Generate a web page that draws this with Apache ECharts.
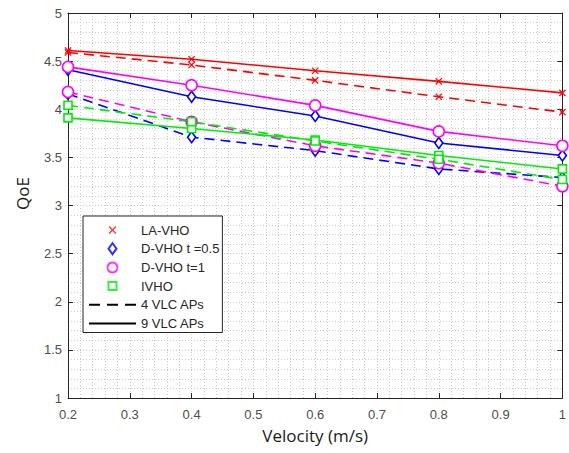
<!DOCTYPE html>
<html>
<head>
<meta charset="utf-8">
<script src="https://cdn.jsdelivr.net/npm/echarts@6/dist/echarts.min.js"></script>
<style>
html,body{margin:0;padding:0;background:#fff;}
#chart{width:569px;height:453px;}
</style>
</head>
<body>
<div id="chart"></div>
<script>
// ---- data ----
var velocity = [0.2, 0.4, 0.6, 0.8, 1.0];
var laVho9   = [4.61, 4.52, 4.40, 4.29, 4.17];
var laVho4   = [4.59, 4.46, 4.30, 4.13, 3.97];
var dVho05_9 = [4.41, 4.13, 3.93, 3.65, 3.52];
var dVho05_4 = [4.16, 3.71, 3.57, 3.38, 3.29];
var dVho1_9  = [4.44, 4.25, 4.04, 3.77, 3.62];
var dVho1_4  = [4.18, 3.87, 3.62, 3.44, 3.20];
var ivho9    = [3.91, 3.80, 3.68, 3.52, 3.38];
var ivho4    = [4.04, 3.87, 3.67, 3.48, 3.27];
var legendNames = ['LA-VHO', 'D-VHO t =0.5', 'D-VHO t=1', 'IVHO', '4 VLC APs', '9 VLC APs'];

function pairs(ys){ return velocity.map(function(x,i){ return [x, ys[i]]; }); }

// marker shapes (extra move-to points pad the bounding box so shapes keep a natural size)
var xMark   = 'path://M0,1.2 L1.2,0 L5,3.8 L8.8,0 L10,1.2 L6.2,5 L10,8.8 L8.8,10 L5,6.2 L1.2,10 L0,8.8 L3.8,5 Z M-2,-2 M12,12';
var diamond = 'path://M4,0 L8,5.5 L4,11 L0,5.5 Z';
var square  = 'path://M0,0 L8,0 L8,8 L0,8 Z M-1.5,-1.5 M9.5,9.5';
var circle  = 'path://M5,0 A5,5 0 1 1 4.99,0 Z M-0.5,-0.5 M10.5,10.5';
var styles = {
  la:   {color:'#ff0000', symbol:xMark, size:10, filled:true},
  d05:  {color:'#0000ff', symbol:diamond, size:11, filled:false},
  d1:   {color:'#ff00ff', symbol:'circle', size:11, filled:false},
  iv:   {color:'#00ee00', symbol:square, size:11, filled:false}
};

function mkSeries(name, st, ys, dashed){
  return {
    name: name, type:'line', data: pairs(ys),
    symbol: st.symbol, symbolSize: st.size, symbolKeepAspect:true, showSymbol:true,
    lineStyle:{color:st.color, width:1.6, type: dashed ? [10,6] : 'solid'},
    itemStyle: st.filled ? {color:st.color, borderWidth:0} : {color:'#ffffff', borderColor:st.color, borderWidth:1.6},
    emphasis:{disabled:true}, animation:false, z:3
  };
}
function legendMarker(name, st, sym){
  return {name:name, type:'scatter', data:[], symbol:sym || st.symbol, symbolSize:st.size, symbolKeepAspect:true,
    itemStyle: st.filled ? {color:st.color} : {color:'#ffffff', borderColor:st.color, borderWidth:2}};
}

var series = [
  mkSeries('LA-VHO 9', styles.la, laVho9, false),
  mkSeries('LA-VHO 4', styles.la, laVho4, true),
  mkSeries('D-VHO t=0.5 9', styles.d05, dVho05_9, false),
  mkSeries('D-VHO t=0.5 4', styles.d05, dVho05_4, true),
  mkSeries('D-VHO t=1 9', styles.d1, dVho1_9, false),
  mkSeries('D-VHO t=1 4', styles.d1, dVho1_4, true),
  mkSeries('IVHO 9', styles.iv, ivho9, false),
  mkSeries('IVHO 4', styles.iv, ivho4, true),
  legendMarker(legendNames[0], styles.la),
  legendMarker(legendNames[1], styles.d05),
  legendMarker(legendNames[2], styles.d1, circle),
  legendMarker(legendNames[3], styles.iv),
  {name:legendNames[4], type:'line', data:[], symbol:'none', showSymbol:false, itemStyle:{color:'#000'}, lineStyle:{color:'#000', width:1, type:[11,7]}},
  {name:legendNames[5], type:'line', data:[], symbol:'none', showSymbol:false, itemStyle:{color:'#000'}, lineStyle:{color:'#000', width:1}}
];

var hidden = {color:'rgba(0,0,0,0)', borderColor:'rgba(0,0,0,0)', borderWidth:0, opacity:0};
var legendData = [
  {name:legendNames[0]},
  {name:legendNames[1]},
  {name:legendNames[2]},
  {name:legendNames[3]},
  {name:legendNames[4], itemStyle:hidden},
  {name:legendNames[5], itemStyle:hidden}
];

var gridLine = {show:true, lineStyle:{color:'#cccccc', width:1, type:[1,2]}};
var axisCol = '#262626';
var labelFont = {fontFamily:'Liberation Sans, Arial, sans-serif', fontSize:13, color:'#4d4d4d'};
function fmt(v){ return String(parseFloat(v.toFixed(2))); }

var option = {
  backgroundColor:'#ffffff',
  animation:false,
  grid:{left:68, right:5, top:13, bottom:55, containLabel:false},
  legend:{
    data: legendData, orient:'vertical', left:83, top:216,
    itemWidth:47, itemHeight:11, itemGap:4.7, symbolKeepAspect:true,
    padding:[7,3,2,5], borderColor:'#262626', borderWidth:1, backgroundColor:'#ffffff',
    selectedMode:false,
    textStyle:{fontFamily:'Liberation Sans, Arial, sans-serif', fontSize:13, color:'#262626', lineHeight:14}
  },
  xAxis:[{
    type:'value', min:0.2, max:1, interval:0.1,
    name:'Velocity (m/s)', nameLocation:'middle', nameGap:29,
    nameTextStyle:{fontFamily:'Open Sans, sans-serif', fontSize:17, color:'#1a1a1a'},
    axisLine:{show:true, onZero:false, lineStyle:{color:axisCol, width:1}},
    axisTick:{show:true, inside:true, length:5, lineStyle:{color:axisCol}},
    axisLabel:Object.assign({margin:10, formatter:fmt}, labelFont),
    splitLine:gridLine, minorSplitLine:gridLine, minorTick:{show:false, splitNumber:5}
  },{
    type:'value', min:0.2, max:1, interval:0.1, position:'top',
    axisLine:{show:true, onZero:false, lineStyle:{color:axisCol, width:1}},
    axisTick:{show:true, inside:true, length:5, lineStyle:{color:axisCol}},
    axisLabel:{show:false}, splitLine:{show:false}
  }],
  yAxis:[{
    type:'value', min:1, max:5, interval:0.5,
    name:'QoE', nameLocation:'middle', nameGap:37,
    nameTextStyle:{fontFamily:'Open Sans, sans-serif', fontSize:17, color:'#1a1a1a', padding:[0,0,0,24]},
    axisLine:{show:true, onZero:false, lineStyle:{color:axisCol, width:1}},
    axisTick:{show:true, inside:true, length:5, lineStyle:{color:axisCol}},
    axisLabel:Object.assign({margin:6, formatter:fmt}, labelFont),
    splitLine:gridLine, minorSplitLine:gridLine, minorTick:{show:false, splitNumber:5}
  },{
    type:'value', min:1, max:5, interval:0.5, position:'right',
    axisLine:{show:true, onZero:false, lineStyle:{color:axisCol, width:1}},
    axisTick:{show:true, inside:true, length:5, lineStyle:{color:axisCol}},
    axisLabel:{show:false}, splitLine:{show:false}
  }],
  series: series
};

var chart = echarts.init(document.getElementById('chart'), null, {renderer:'svg'});
chart.setOption(option);
</script>
</body>
</html>
